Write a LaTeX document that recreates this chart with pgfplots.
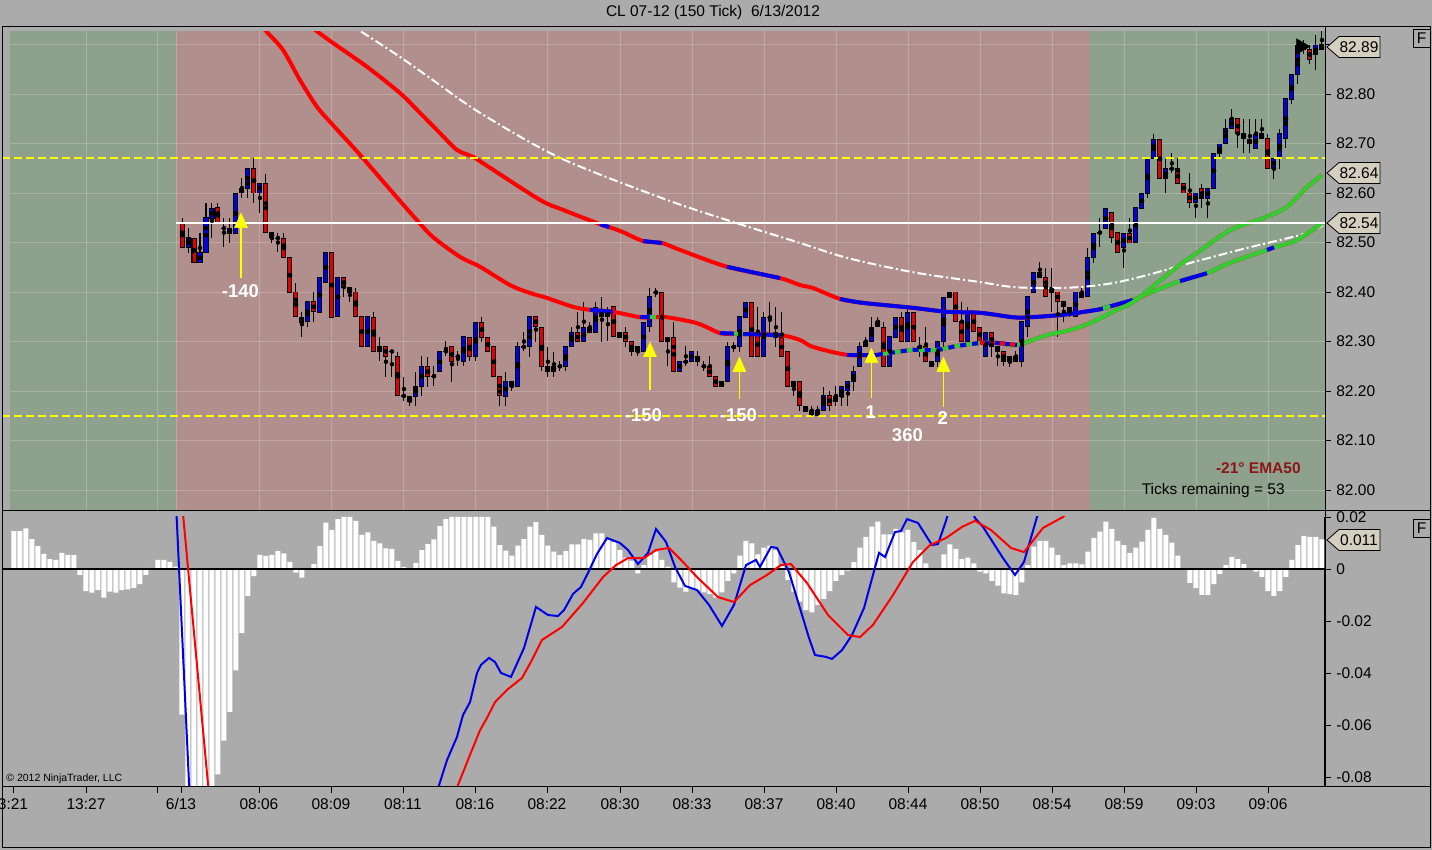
\documentclass[border=0pt]{standalone}
\usepackage{fontspec}
\setmainfont{Liberation Sans}
\usepackage{pgfplots}
\usepackage{pgfplotstable}
\pgfplotsset{compat=1.18}
\definecolor{bggray}{RGB}{171,171,171}
\definecolor{shgreen}{RGB}{142,161,140}
\definecolor{shpink}{RGB}{177,143,141}
\definecolor{cred}{RGB}{226,0,0}
\definecolor{cblue}{RGB}{0,0,224}
\definecolor{emared}{RGB}{255,0,0}
\definecolor{emablue}{RGB}{0,0,230}
\definecolor{emagreen}{RGB}{50,205,50}
\definecolor{tagfill}{RGB}{212,207,190}
\definecolor{embrown}{RGB}{140,22,22}
\definecolor{ayellow}{RGB}{255,255,0}

\pgfplotstableread{
i o h l c
28 82.54 82.55 82.49 82.49
29 82.49 82.53 82.48 82.51
30 82.51 82.51 82.46 82.46
31 82.46 82.52 82.46 82.48
32 82.48 82.58 82.48 82.55
33 82.55 82.58 82.51 82.57
34 82.57 82.58 82.54 82.54
35 82.53 82.55 82.49 82.53
36 82.53 82.55 82.50 82.52
37 82.52 82.60 82.52 82.60
38 82.60 82.63 82.59 82.61
39 82.61 82.65 82.59 82.65
40 82.65 82.67 82.58 82.60
41 82.60 82.62 82.56 82.62
42 82.62 82.64 82.52 82.52
43 82.52 82.52 82.50 82.51
44 82.51 82.52 82.48 82.51
45 82.51 82.52 82.47 82.47
46 82.47 82.47 82.40 82.40
47 82.40 82.42 82.35 82.35
48 82.35 82.36 82.31 82.34
49 82.34 82.38 82.33 82.38
50 82.38 82.40 82.34 82.36
51 82.36 82.43 82.36 82.43
52 82.42 82.48 82.42 82.48
53 82.48 82.48 82.35 82.35
54 82.35 82.43 82.35 82.43
55 82.43 82.43 82.39 82.41
56 82.41 82.41 82.38 82.40
57 82.40 82.41 82.35 82.35
58 82.35 82.35 82.29 82.29
59 82.29 82.35 82.29 82.35
60 82.35 82.36 82.28 82.28
61 82.28 82.31 82.26 82.29
62 82.29 82.29 82.23 82.27
63 82.28 82.28 82.23 82.28
64 82.27 82.28 82.19 82.19
65 82.19 82.23 82.18 82.19
66 82.19 82.19 82.17 82.18
67 82.19 82.24 82.17 82.21
68 82.21 82.27 82.19 82.25
69 82.25 82.27 82.21 82.23
70 82.23 82.25 82.21 82.23
71 82.24 82.28 82.24 82.28
72 82.28 82.30 82.27 82.28
73 82.29 82.29 82.22 82.26
74 82.27 82.28 82.25 82.27
75 82.26 82.31 82.25 82.31
76 82.31 82.31 82.26 82.27
77 82.27 82.34 82.26 82.34
78 82.34 82.35 82.30 82.31
79 82.31 82.31 82.28 82.28
80 82.29 82.29 82.23 82.23
81 82.23 82.23 82.17 82.19
82 82.19 82.24 82.17 82.22
83 82.22 82.22 82.20 82.21
84 82.21 82.30 82.21 82.29
85 82.29 82.32 82.28 82.29
86 82.29 82.35 82.27 82.35
87 82.35 82.35 82.30 82.33
88 82.33 82.33 82.24 82.25
89 82.25 82.29 82.23 82.24
90 82.24 82.28 82.23 82.25
91 82.25 82.26 82.24 82.25
92 82.25 82.29 82.24 82.29
93 82.29 82.33 82.29 82.32
94 82.32 82.36 82.30 82.30
95 82.30 82.38 82.30 82.33
96 82.33 82.34 82.32 82.32
97 82.32 82.38 82.32 82.37
98 82.36 82.39 82.30 82.35
99 82.35 82.37 82.30 82.36
100 82.37 82.37 82.31 82.31
101 82.31 82.32 82.31 82.32
102 82.32 82.33 82.29 82.30
103 82.30 82.30 82.27 82.28
104 82.29 82.29 82.27 82.28
105 82.28 82.34 82.28 82.34
106 82.33 82.41 82.32 82.39
107 82.40 82.41 82.39 82.40
108 82.40 82.40 82.30 82.30
109 82.30 82.31 82.25 82.31
110 82.31 82.34 82.24 82.24
111 82.24 82.26 82.24 82.26
112 82.26 82.29 82.25 82.26
113 82.26 82.28 82.26 82.28
114 82.27 82.28 82.25 82.26
115 82.25 82.26 82.24 82.25
116 82.25 82.27 82.23 82.23
117 82.23 82.23 82.21 82.21
118 82.21 82.22 82.21 82.22
119 82.22 82.30 82.22 82.29
120 82.29 82.30 82.28 82.29
121 82.29 82.35 82.28 82.35
122 82.35 82.38 82.35 82.38
123 82.38 82.38 82.27 82.27
124 82.32 82.37 82.27 82.27
125 82.27 82.36 82.27 82.35
126 82.35 82.38 82.31 82.35
127 82.31 82.37 82.29 82.32
128 82.31 82.36 82.27 82.27
129 82.28 82.28 82.21 82.21
130 82.21 82.22 82.19 82.22
131 82.22 82.22 82.16 82.17
132 82.17 82.17 82.16 82.16
133 82.16 82.17 82.15 82.15
134 82.15 82.17 82.15 82.16
135 82.16 82.21 82.16 82.19
136 82.19 82.20 82.16 82.17
137 82.18 82.21 82.17 82.19
138 82.19 82.21 82.17 82.21
139 82.20 82.22 82.17 82.22
140 82.22 82.25 82.20 82.24
141 82.25 82.30 82.25 82.29
142 82.29 82.31 82.29 82.30
143 82.30 82.35 82.30 82.33
144 82.34 82.35 82.33 82.33
145 82.33 82.34 82.25 82.25
146 82.25 82.31 82.25 82.31
147 82.31 82.35 82.31 82.35
148 82.35 82.36 82.30 82.30
149 82.30 82.37 82.30 82.36
150 82.36 82.36 82.30 82.30
151 82.29 82.31 82.27 82.29
152 82.29 82.33 82.26 82.26
153 82.25 82.26 82.25 82.26
154 82.26 82.30 82.25 82.30
155 82.30 82.39 82.28 82.39
156 82.39 82.40 82.39 82.40
157 82.40 82.40 82.34 82.34
158 82.34 82.38 82.30 82.30
159 82.30 82.37 82.30 82.36
160 82.36 82.36 82.32 82.32
161 82.33 82.33 82.30 82.30
162 82.27 82.32 82.27 82.32
163 82.32 82.32 82.27 82.29
164 82.29 82.29 82.25 82.28
165 82.28 82.28 82.25 82.26
166 82.26 82.27 82.25 82.27
167 82.27 82.28 82.26 82.26
168 82.26 82.34 82.25 82.34
169 82.33 82.39 82.31 82.39
170 82.40 82.44 82.40 82.44
171 82.43 82.46 82.43 82.44
172 82.43 82.45 82.39 82.39
173 82.40 82.45 82.36 82.41
174 82.40 82.40 82.31 82.38
175 82.38 82.38 82.34 82.37
176 82.37 82.37 82.35 82.36
177 82.35 82.40 82.35 82.40
178 82.40 82.41 82.39 82.39
179 82.39 82.49 82.39 82.47
180 82.47 82.52 82.46 82.52
181 82.52 82.55 82.49 82.52
182 82.53 82.57 82.53 82.57
183 82.56 82.56 82.50 82.51
184 82.52 82.52 82.48 82.48
185 82.49 82.52 82.45 82.52
186 82.52 82.55 82.50 82.50
187 82.50 82.57 82.50 82.57
188 82.57 82.60 82.57 82.60
189 82.60 82.67 82.59 82.67
190 82.67 82.72 82.67 82.71
191 82.71 82.71 82.63 82.63
192 82.63 82.67 82.60 82.65
193 82.65 82.68 82.64 82.65
194 82.65 82.67 82.62 82.62
195 82.62 82.62 82.60 82.60
196 82.60 82.64 82.57 82.58
197 82.58 82.60 82.55 82.60
198 82.61 82.62 82.57 82.59
199 82.59 82.61 82.55 82.61
200 82.61 82.68 82.61 82.68
201 82.68 82.70 82.67 82.70
202 82.70 82.75 82.70 82.73
203 82.73 82.77 82.73 82.75
204 82.75 82.75 82.69 82.72
205 82.72 82.75 82.68 82.71
206 82.71 82.75 82.68 82.70
207 82.69 82.75 82.69 82.72
208 82.72 82.75 82.71 82.71
209 82.71 82.72 82.65 82.65
210 82.65 82.67 82.63 82.67
211 82.67 82.73 82.65 82.72
212 82.71 82.79 82.69 82.79
213 82.79 82.84 82.78 82.84
214 82.84 82.90 82.82 82.90
215 82.89 82.91 82.88 82.90
216 82.89 82.90 82.86 82.87
217 82.88 82.92 82.85 82.90
218 82.90 82.93 82.89 82.89
}\candles

\pgfplotstableread{
i v
40.5 82.950
42.17 82.925
44.83 82.889
47.67 82.828
50.5 82.774
53.17 82.737
56.5 82.693
58.83 82.661
63.17 82.600
67.17 82.545
69.83 82.511
74.33 82.471
77.67 82.451
82.67 82.414
86.0 82.398
88.83 82.388
93.17 82.370
96.0 82.364
99.83 82.360
104.33 82.349
106.0 82.349
107.0 82.349
108.83 82.349
113.83 82.337
117.67 82.317
120.0 82.316
121.5 82.315
127.67 82.313
131.0 82.303
133.17 82.289
138.83 82.273
143.83 82.273
146.0 82.277
149.83 82.283
153.83 82.283
157.17 82.291
161.0 82.297
163.83 82.297
167.17 82.293
172.17 82.313
176.0 82.323
179.33 82.337
183.17 82.360
186.83 82.382
190.5 82.418
194.33 82.455
197.17 82.479
202.67 82.525
208.17 82.549
212.17 82.572
215.5 82.612
218.0 82.636
}\emaA

\pgfplotstableread{
i v
48.5 82.945
50.67 82.925
53.17 82.903
58.83 82.855
64.33 82.802
67.17 82.768
71.0 82.721
73.83 82.687
76.5 82.673
79.33 82.651
87.67 82.586
91.5 82.566
97.67 82.537
99.2 82.531
101.5 82.521
104.83 82.503
108.0 82.499
111.0 82.485
118.83 82.451
127.67 82.428
131.0 82.414
133.17 82.408
137.67 82.386
141.5 82.378
149.83 82.368
155.5 82.360
161.0 82.358
166.5 82.349
169.33 82.349
174.83 82.354
180.5 82.364
181.5 82.367
182.7 82.371
186.5 82.384
190.5 82.404
194.33 82.422
198.83 82.438
202.67 82.459
208.83 82.485
210.0 82.490
213.83 82.505
218.0 82.539
}\emaB

\pgfplotstableread{
i v
55.5 82.945
58.0 82.925
64.33 82.875
69.83 82.828
77.67 82.762
91.0 82.671
108.83 82.586
121.0 82.537
130.5 82.501
138.83 82.469
149.83 82.440
161.0 82.420
166.5 82.410
172.17 82.408
177.67 82.410
183.17 82.418
188.83 82.434
194.33 82.453
199.83 82.471
205.5 82.489
211.0 82.505
215.5 82.519
218.17 82.535
}\emaC

\pgfplotstableread{
i v
0 0.0146
1 0.0146
2 0.0156
3 0.0115
4 0.0088
5 0.0058
6 0.0038
7 0.0035
8 0.0062
9 0.0054
10 0.0054
11 -0.0023
12 -0.0085
13 -0.0091
14 -0.0081
15 -0.0110
16 -0.0087
17 -0.0091
18 -0.0081
19 -0.0078
20 -0.0073
21 -0.0058
22 -0.0023
23 0.0004
24 0.0035
25 0.0035
26 0.0027
27 0.0009
28 -0.0560
29 -0.1000
30 -0.1000
31 -0.1000
32 -0.1000
33 -0.1000
34 -0.0790
35 -0.0660
36 -0.0550
37 -0.0390
38 -0.0247
39 -0.0104
40 -0.0027
41 0.0054
42 0.0050
43 0.0054
44 0.0069
45 0.0060
46 0.0027
47 -0.0014
48 -0.0033
49 0.0001
50 0.0019
51 0.0088
52 0.0178
53 0.0150
54 0.0192
55 0.0200
56 0.0200
57 0.0185
58 0.0131
59 0.0141
60 0.0108
61 0.0099
62 0.0079
63 0.0077
64 0.0031
65 0.0008
66 0.0001
67 0.0024
68 0.0073
69 0.0096
70 0.0114
71 0.0165
72 0.0192
73 0.0200
74 0.0200
75 0.0200
76 0.0200
77 0.0200
78 0.0200
79 0.0200
80 0.0163
81 0.0092
82 0.0071
83 0.0051
84 0.0090
85 0.0115
86 0.0163
87 0.0180
88 0.0131
89 0.0090
90 0.0067
91 0.0054
92 0.0069
93 0.0095
94 0.0095
95 0.0115
96 0.0112
97 0.0137
98 0.0137
99 0.0118
100 0.0103
101 0.0073
102 0.0044
103 0.0031
104 -0.0017
105 0.0015
106 0.0054
107 0.0067
108 0.0035
109 0.0009
110 -0.0051
111 -0.0072
112 -0.0087
113 -0.0074
114 -0.0081
115 -0.0090
116 -0.0097
117 -0.0110
118 -0.0090
119 -0.0046
120 -0.0017
121 0.0051
122 0.0108
123 0.0099
124 0.0056
125 0.0082
126 0.0090
127 0.0073
128 0.0015
129 -0.0042
130 -0.0087
131 -0.0126
132 -0.0158
133 -0.0167
134 -0.0138
135 -0.0115
136 -0.0085
137 -0.0046
138 -0.0023
139 -0.0006
140 0.0026
141 0.0082
142 0.0124
143 0.0163
144 0.0182
145 0.0133
146 0.0133
147 0.0154
148 0.0141
149 0.0150
150 0.0103
151 0.0073
152 0.0022
153 -0.0003
154 -0.0004
155 0.0056
156 0.0095
157 0.0077
158 0.0038
159 0.0044
160 0.0022
161 -0.0010
162 -0.0017
163 -0.0046
164 -0.0064
165 -0.0094
166 -0.0097
167 -0.0100
168 -0.0051
169 0.0015
170 0.0086
171 0.0108
172 0.0108
173 0.0082
174 0.0054
175 0.0015
176 0.0022
177 0.0022
178 0.0018
179 0.0067
180 0.0120
181 0.0144
182 0.0182
183 0.0154
184 0.0108
185 0.0092
186 0.0062
187 0.0082
188 0.0105
189 0.0150
190 0.0197
191 0.0154
192 0.0131
193 0.0101
194 0.0051
195 0.0003
196 -0.0053
197 -0.0074
198 -0.0100
199 -0.0100
200 -0.0058
201 -0.0019
202 0.0015
203 0.0047
204 0.0038
205 0.0019
206 0.0001
207 -0.0010
208 -0.0030
209 -0.0085
210 -0.0103
211 -0.0085
212 -0.0030
213 0.0035
214 0.0092
215 0.0127
216 0.0124
217 0.0124
218 0.0114
}\hist

\pgfplotstableread{
i v
70.33 -0.0869
72.17 -0.0735
73.83 -0.0646
74.83 -0.0562
76.0 -0.0512
77.17 -0.0400
77.83 -0.0369
79.17 -0.0342
80.17 -0.0358
81.17 -0.0400
82.83 -0.0415
85.0 -0.0304
87.0 -0.0146
89.0 -0.0177
90.67 -0.0181
91.67 -0.0158
93.17 -0.0096
94.5 -0.0069
95.5 -0.0023
97.17 0.0058
98.83 0.0119
101.0 0.0100
102.33 0.0073
104.0 0.0019
105.67 0.0062
107.0 0.0154
108.67 0.0104
110.17 0.0008
111.83 -0.0065
113.83 -0.0081
115.83 -0.0138
118.0 -0.0219
120.0 -0.0138
122.0 0.0015
123.67 0.0035
124.33 0.0008
126.17 0.0085
127.17 0.0081
129.17 -0.0012
130.83 -0.0138
132.5 -0.0265
133.5 -0.0331
135.33 -0.0338
136.33 -0.0346
138.0 -0.0312
139.67 -0.0254
141.67 -0.0150
144.17 0.0062
145.17 0.0046
146.83 0.0142
147.83 0.0146
148.83 0.0192
150.67 0.0177
153.0 0.0092
154.0 0.0096
155.33 0.0185
156.33 0.0265
159.0 0.0265
160.17 0.0196
161.5 0.0162
164.83 0.0042
166.83 -0.0023
168.33 0.0027
170.5 0.0200
171.33 0.0265
}\macd

\pgfplotstableread{
i v
73.83 -0.0869
74.0 -0.0831
76.0 -0.0715
77.67 -0.0620
78.83 -0.0573
80.17 -0.0512
82.17 -0.0465
84.67 -0.0419
86.33 -0.0350
88.0 -0.0273
91.33 -0.0223
94.83 -0.0131
98.17 -0.0031
100.33 0.0015
102.33 0.0042
105.0 0.0042
107.0 0.0073
109.17 0.0081
111.17 0.0035
113.83 -0.0031
117.33 -0.0108
120.0 -0.0127
122.67 -0.0062
125.5 -0.0023
127.83 0.0015
129.5 0.0019
132.17 -0.0054
135.67 -0.0177
139.0 -0.0254
141.0 -0.0262
143.17 -0.0215
146.5 -0.0100
149.83 0.0027
152.67 0.0092
155.33 0.0119
158.0 0.0162
160.17 0.0185
162.83 0.0150
166.17 0.0081
168.33 0.0065
171.5 0.0158
174.83 0.0200
176.83 0.0246
}\signal

\pgfplotsset{
  panel/.style={
    scale only axis, width=1323pt, xmin=-2, xmax=218.5,
    axis line style={-, black, line width=1pt},
    tick align=outside, major tick length=6pt,
    tick style={black, line width=0.8pt},
    ticklabel style={font=\fontsize{15.5}{18}\selectfont},
    scaled ticks=false,
  },
  candle/.style={only marks, mark=none, error bars/.cd, y dir=both, y explicit, error mark=none},
  ema/.style={line width=4pt, smooth, tension=0.5},
}
\tikzset{gridl/.style={white, opacity=0.2, line width=0.8pt}}

\begin{document}
\fontsize{15.5}{18}\selectfont
\begin{tikzpicture}[x=1pt,y=1pt]
\path[use as bounding box] (0,0) rectangle (1432,850);
\fill[bggray] (0,0) rectangle (1432,850);
\node at (713,837) {CL 07-12 (150 Tick)\ \ 6/13/2012};

% ---------------- price panel
\begin{axis}[panel, at={(2pt,340pt)}, anchor=south west, height=478pt,
  ymin=81.9596, ymax=82.9253,
  axis x line=none, axis y line*=right,
  ytick={82.0,82.1,82.2,82.3,82.4,82.5,82.6,82.7,82.8,82.9},
  yticklabels={82.00,82.10,82.20,82.30,82.40,82.50,82.60,82.70,82.80,{}},
]
\fill[shgreen] (axis cs:-0.67,81.9) rectangle (axis cs:27,83);
\fill[shpink] (axis cs:27,81.9) rectangle (axis cs:179.33,83);
\fill[shgreen] (axis cs:179.33,81.9) rectangle (axis cs:220,83);
\pgfplotsinvokeforeach{12,23.83,27,40.83,52.83,64.83,76.83,88.83,101,113,125,137,149,161,173,185,197,209}{
  \draw[gridl] (axis cs:#1,81.9) -- (axis cs:#1,83);}
\pgfplotsinvokeforeach{82.0,82.1,82.2,82.3,82.4,82.5,82.6,82.7,82.8,82.9}{
  \draw[gridl] (axis cs:-0.67,#1) -- (axis cs:220,#1);}

% candles: wicks, outlines, bodies
\addplot[candle, error bar style={line width=1pt, draw=black}]
  table[x=i, y expr={(\thisrow{h}+\thisrow{l})/2}, y error expr={(\thisrow{h}-\thisrow{l})/2}] {\candles};
\addplot[candle, error bar style={line width=5pt, draw=black}]
  table[x=i, y expr={(\thisrow{o}+\thisrow{c})/2}, y error expr={abs(\thisrow{o}-\thisrow{c})/2+0.001}] {\candles};
\addplot[restrict expr to domain={\thisrow{o}-\thisrow{c}}{0.005:1}, candle, error bar style={line width=3pt, draw=cred}]
  table[x=i, y expr={(\thisrow{o}+\thisrow{c})/2}, y error expr={abs(\thisrow{o}-\thisrow{c})/2-0.001}] {\candles};
\addplot[restrict expr to domain={\thisrow{c}-\thisrow{o}}{0.005:1}, candle, error bar style={line width=3pt, draw=cblue}]
  table[x=i, y expr={(\thisrow{o}+\thisrow{c})/2}, y error expr={abs(\thisrow{o}-\thisrow{c})/2-0.001}] {\candles};

% slow EMA (white dash-dot)
\addplot[white, line width=2pt, smooth, tension=0.5, dash pattern=on 9pt off 3pt on 2pt off 3pt] table[x=i,y=v] {\emaC};

% medium EMA
\addplot[ema, emared] table[x=i,y=v] {\emaB};
\addplot[ema, emablue, restrict x to domain=97.6:99.25] table[x=i,y=v] {\emaB};
\addplot[ema, emablue, restrict x to domain=104.8:108.05] table[x=i,y=v] {\emaB};
\addplot[ema, emablue, restrict x to domain=118.8:127.7] table[x=i,y=v] {\emaB};
\addplot[ema, emablue, restrict x to domain=137.6:186.55] table[x=i,y=v] {\emaB};
\addplot[ema, emagreen, restrict x to domain=181.45:182.75] table[x=i,y=v] {\emaB};
\addplot[ema, emagreen, restrict x to domain=186.45:220] table[x=i,y=v] {\emaB};
\addplot[ema, emablue, restrict x to domain=194.3:198.9] table[x=i,y=v] {\emaB};
\addplot[ema, emablue, restrict x to domain=208.8:210.05] table[x=i,y=v] {\emaB};

% fast EMA
\addplot[ema, emared] table[x=i,y=v] {\emaA};
\addplot[ema, emablue, restrict x to domain=95.9:99.9] table[x=i,y=v] {\emaA};
\addplot[ema, emablue, restrict x to domain=104.3:106.05] table[x=i,y=v] {\emaA};
\addplot[ema, emagreen, restrict x to domain=105.95:107.05] table[x=i,y=v] {\emaA};
\addplot[ema, emablue, restrict x to domain=117.6:120.05] table[x=i,y=v] {\emaA};
\addplot[ema, emagreen, restrict x to domain=119.95:121.55] table[x=i,y=v] {\emaA};
\addplot[ema, emablue, restrict x to domain=121.45:127.7] table[x=i,y=v] {\emaA};
\addplot[ema, emablue, restrict x to domain=138.8:143.9] table[x=i,y=v] {\emaA};
\addplot[ema, emagreen, restrict x to domain=143.8:220] table[x=i,y=v] {\emaA};
\addplot[ema, emablue, dash pattern=on 6pt off 6pt, restrict x to domain=143.8:161.05] table[x=i,y=v] {\emaA};
\addplot[ema, emablue, restrict x to domain=160.95:167.2] table[x=i,y=v] {\emaA};
\addplot[ema, emared, dash pattern=on 5pt off 5pt, restrict x to domain=160.95:167.2] table[x=i,y=v] {\emaA};

% reference lines
\addplot[white, line width=2pt] coordinates {(27,82.54) (218.5,82.54)};
\addplot[ayellow, line width=1.8pt, dash pattern=on 8pt off 4pt] coordinates {(-2,82.67) (218.5,82.67)};
\addplot[ayellow, line width=1.8pt, dash pattern=on 8pt off 4pt] coordinates {(-2,82.15) (218.5,82.15)};

% yellow arrows
\addplot[ayellow, line width=1.3pt] coordinates {(37.83,82.428) (37.83,82.530)};
\addplot[ayellow, line width=1.3pt] coordinates {(106,82.202) (106,82.270)};
\addplot[ayellow, line width=1.3pt] coordinates {(120.9,82.184) (120.9,82.240)};
\addplot[ayellow, line width=1.3pt] coordinates {(142.9,82.186) (142.9,82.258)};
\addplot[ayellow, line width=1.3pt] coordinates {(154.9,82.168) (154.9,82.240)};
\addplot[only marks, mark=triangle*, mark size=7.5pt, mark options={fill=ayellow, draw=ayellow, yscale=1.3}]
  coordinates {(37.83,82.540) (106,82.279) (120.9,82.249) (142.9,82.267) (154.9,82.249)};
% trade marker
\addplot[only marks, mark=triangle*, mark size=9pt, mark options={rotate=-90, fill=black, draw=black}]
  coordinates {(214.5,82.896)};

\node[white, font=\fontsize{18.5}{20}\selectfont\bfseries] at (axis cs:37.75,82.401) {-140};
\node[white, font=\fontsize{18.5}{20}\selectfont\bfseries] at (axis cs:104.9,82.152) {-150};
\node[white, font=\fontsize{18.5}{20}\selectfont\bfseries] at (axis cs:120.75,82.152) {-150};
\node[white, font=\fontsize{18.5}{20}\selectfont\bfseries] at (axis cs:142.8,82.157) {1};
\node[white, font=\fontsize{18.5}{20}\selectfont\bfseries] at (axis cs:154.8,82.145) {2};
\node[white, font=\fontsize{18.5}{20}\selectfont\bfseries] at (axis cs:148.9,82.111) {360};
\end{axis}

% ---------------- MACD panel
\begin{axis}[panel, at={(2pt,63pt)}, anchor=south west, height=270pt,
  ymin=-0.08385, ymax=0.02,
  axis x line*=bottom, axis y line*=right,
  ytick={-0.08,-0.06,-0.04,-0.02,0,0.02},
  yticklabels={-0.08,-0.06,-0.04,-0.02,0,0.02},
  xtick={-0.17,12,23.83,27.83,40.83,52.83,64.83,76.83,88.83,101,113,125,137,149,161,173,185,197,209},
  xticklabels={3:21,13:27,{},6/13,08:06,08:09,08:11,08:16,08:22,08:30,08:33,08:37,08:40,08:44,08:50,08:54,08:59,09:03,09:06},
  xticklabel style={xshift=0pt},
]
\addplot[ybar, bar width=5pt, fill=white, draw=none] table[x=i,y=v] {\hist};
\addplot[black, line width=1.3pt] coordinates {(-2,0) (218.5,0)};
\addplot[emablue, line width=2pt] coordinates {(26.9,0.0304) (29.3,-0.0888)};
\addplot[emared, line width=2pt] coordinates {(28.03,0.0246) (32.5,-0.0869)};
\addplot[emablue, line width=2pt] table[x=i,y=v] {\macd};
\addplot[emared, line width=2pt] table[x=i,y=v] {\signal};
\end{axis}

% frame
\draw[black, line width=1pt] (2,2) rectangle (1430,823);
\draw[black, line width=1pt] (2,339) -- (1430,339);
\draw[black, line width=1pt] (2,63) -- (1430,63);
\draw[black, line width=1pt] (1325,63) -- (1325,823);

% price tags
\newcommand{\ptag}[2]{%
  \filldraw[fill=tagfill, draw=black, line width=0.8pt] (1327,#1) -- (1339,{#1+10.5}) -- (1380,{#1+10.5}) -- (1380,{#1-10.5}) -- (1339,{#1-10.5}) -- cycle;
  \node at (1359,#1) {#2};}
\ptag{803}{82.89}
\ptag{677}{82.64}
\ptag{627}{82.54}
\ptag{310}{0.011}

% F boxes
\draw[black, line width=0.8pt] (1413,803) rectangle (1430,821);
\node at (1421.5,812) {F};
\draw[black, line width=0.8pt] (1413,313) rectangle (1430,331);
\node at (1421.5,322) {F};

% texts
\node[anchor=east, text=embrown, font=\fontsize{15.5}{18}\selectfont\bfseries] at (1306,382) {-21° EMA50};
\node[anchor=east] at (1290,359) {Ticks remaining = 53};
\node[anchor=west, font=\fontsize{10.5}{12}\selectfont] at (1,71) {© 2012 NinjaTrader, LLC};
\end{tikzpicture}
\end{document}
